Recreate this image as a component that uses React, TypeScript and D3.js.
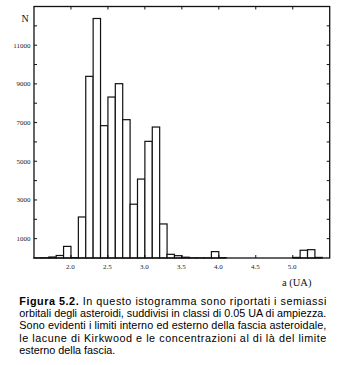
import React from "react";
import * as d3 from "d3";

// Histogram bins: lower edges (UA), width 0.1
const binStarts = [
  1.5, 1.6, 1.7, 1.8, 1.9, 2.0, 2.1, 2.2, 2.3, 2.4, 2.5, 2.6, 2.7, 2.8, 2.9,
  3.0, 3.1, 3.2, 3.3, 3.4, 3.5, 3.6, 3.7, 3.8, 3.9, 4.0, 4.1, 4.2, 4.3, 4.4,
  4.5, 4.6, 4.7, 4.8, 4.9, 5.0, 5.1, 5.2, 5.3, 5.4,
];
const counts = [
  5, 15, 50, 130, 600, 20, 2120, 9390, 12380, 6840, 8320, 9010, 7150, 2780,
  4080, 6030, 6770, 1760, 190, 120, 40, 10, 5, 5, 330, 20, 0, 0, 0, 0, 0, 0,
  0, 0, 0, 30, 400, 430, 30, 0,
];
const binWidth = 0.1;
const xTicks = [2.0, 2.5, 3.0, 3.5, 4.0, 4.5, 5.0];
const yTicks = [1000, 2000, 3000, 4000, 5000, 6000, 7000, 8000, 9000, 10000, 11000, 12000];
const yLabels = [1000, 3000, 5000, 7000, 9000, 11000];
const captionBold = "Figura 5.2.";
const captionLines = [
  " In questo istogramma sono riportati i semiassi",
  "orbitali degli asteroidi, suddivisi in classi di 0.05 UA di ampiezza.",
  "Sono evidenti i limiti interno ed esterno della fascia asteroidale,",
  "le lacune di Kirkwood e le concentrazioni al di là del limite",
  "esterno della fascia.",
];

export default function App() {
  const left = 34, right = 329.7, top = 6.5, bottom = 258;
  const x = d3.scaleLinear().domain([1.5, 5.5]).range([left, right]);
  const y = d3.scaleLinear().domain([0, 13000]).range([bottom, top]);
  const serif = "'Liberation Serif', 'DejaVu Serif', serif";
  const sans = "'Liberation Sans', Arial, sans-serif";
  const tl = 3;
  return (
    <svg
      width={339}
      height={365}
      style={{ position: "absolute", left: 0, top: 0, background: "#fff" }}
    >
      <rect x={0} y={0} width={339} height={365} fill="#fff" />
      {binStarts.map((b, i) => (
        <rect
          key={i}
          x={x(b)}
          y={y(counts[i])}
          width={x(b + binWidth) - x(b)}
          height={bottom - y(counts[i])}
          fill="#fff"
          stroke="#111"
          strokeWidth={1.2}
        />
      ))}
      <rect
        x={left}
        y={top}
        width={right - left}
        height={bottom - top}
        fill="none"
        stroke="#111"
        strokeWidth={1.3}
      />
      {yTicks.map((t) => (
        <g key={t} stroke="#111" strokeWidth={1}>
          <line x1={left} x2={left + tl} y1={y(t)} y2={y(t)} />
          <line x1={right} x2={right - tl} y1={y(t)} y2={y(t)} />
        </g>
      ))}
      {xTicks.map((t) => (
        <g key={t} stroke="#111" strokeWidth={1}>
          <line x1={x(t)} x2={x(t)} y1={top} y2={top + tl} />
          <line x1={x(t)} x2={x(t)} y1={bottom} y2={bottom - tl} />
        </g>
      ))}
      {yLabels.map((t) => (
        <text
          key={t}
          x={30.5}
          y={y(t) + 2.4}
          textAnchor="end"
          fontFamily={serif}
          fontSize={7}
          fill="#222"
        >
          {t}
        </text>
      ))}
      {xTicks.map((t) => (
        <text
          key={t}
          x={x(t) - 0.5}
          y={268.5}
          textAnchor="middle"
          fontFamily={serif}
          fontSize={7}
          fill="#222"
        >
          {d3.format(".1f")(t)}
        </text>
      ))}
      <text x={25} y={21.5} textAnchor="middle" fontFamily={serif} fontSize={10} fill="#111">
        N
      </text>
      <text x={282} y={286} fontFamily={serif} fontSize={10.5} fill="#111">
        a (UA)
      </text>
      {captionLines.map((line, i) => (
        <text
          key={i}
          x={19.3}
          y={304.5 + 12.4 * i}
          fontFamily={sans}
          fontSize={10.8}
          fill="#000"
          textLength={i < captionLines.length - 1 ? 307 : undefined}
          lengthAdjust="spacing"
          xmlSpace="preserve"
          style={{ whiteSpace: "pre" }}
        >
          {i === 0 ? (
            <>
              <tspan fontWeight="bold">{captionBold}</tspan>
              <tspan>{line}</tspan>
            </>
          ) : (
            line
          )}
        </text>
      ))}
    </svg>
  );
}
